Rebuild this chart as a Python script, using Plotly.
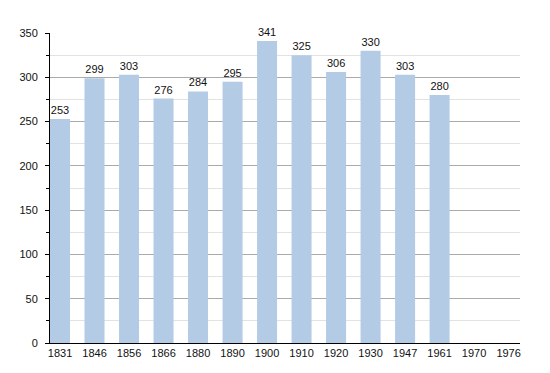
import plotly.graph_objects as go

years = ["1831", "1846", "1856", "1866", "1880", "1890", "1900", "1910", "1920", "1930", "1947", "1961", "1970", "1976"]
population = [253, 299, 303, 276, 284, 295, 341, 325, 306, 330, 303, 280, None, None]
labels = [str(v) if v is not None else "" for v in population]

fig = go.Figure()
fig.add_trace(go.Bar(
    x=years, y=population, text=labels, textposition="outside",
    textfont=dict(family="Liberation Sans, Arial", size=11, color="#111"),
    marker=dict(color="#b3cbe5", line=dict(width=0)),
    width=0.58, cliponaxis=False,
))
fig.update_layout(
    width=550, height=373,
    margin=dict(l=42, r=38, t=25, b=38),
    plot_bgcolor="white", paper_bgcolor="white",
    showlegend=False,
    font=dict(family="Liberation Sans, Arial", size=11, color="#111"),
)
fig.update_xaxes(type="category", range=[-0.29, 13.33], showline=True, linecolor="black", linewidth=1,
                 ticks="", showgrid=False, tickfont=dict(size=11))
fig.update_yaxes(range=[0, 350], dtick=50, showline=True, linecolor="black", linewidth=1,
                 ticks="outside", ticklen=4, tickcolor="black", ticklabelstandoff=5,
                 showgrid=True, gridcolor="#aaaaaa", gridwidth=1,
                 minor=dict(dtick=25, showgrid=True, gridcolor="#e2e2e2", ticks="outside", ticklen=3, tickcolor="black"),
                 zeroline=False, tickfont=dict(size=11))
fig.write_html("out.html")
